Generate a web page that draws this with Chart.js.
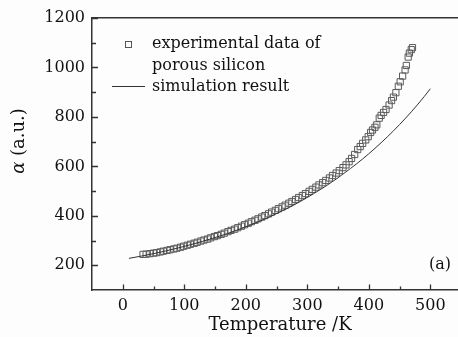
<!DOCTYPE html>
<html>
<head>
<meta charset="utf-8">
<script src="https://cdn.jsdelivr.net/npm/chart.js@4/dist/chart.umd.min.js"></script>
<style>
html,body{margin:0;padding:0;background:#fdfdfd;}
#wrap{width:458px;height:337px;position:relative;}
</style>
</head>
<body>
<div id="wrap"><canvas id="c" width="458" height="337"></canvas></div>
<script>
// Experimental data (porous silicon): temperature (K) and alpha (a.u.)
const expT = [33,38,44,50,55,61,66,72,77,83,88,94,99,105,110,116,121,127,132,138,143,149,154,160,165,171,176,182,187,193,198,204,209,215,220,226,231,237,242,248,253,259,264,270,275,281,286,292,297,303,308,314,319,325,330,336,341,347,352,358,363,368,372,377,382,386,390,395,399,403,406,410,413,417,420,424,428,433,437,440,444,448,451,455,459,461,464,466,469,471];
const expAlpha = [244,245,247,249,251,254,257,260,263,266,269,273,277,281,285,289,293,298,302,306,311,316,320,325,330,336,341,346,352,358,364,370,376,382,388,395,401,408,415,422,429,436,443,451,458,466,474,482,490,499,507,516,525,534,543,553,563,573,583,595,606,619,632,648,668,680,693,707,720,737,747,758,768,795,806,818,830,848,866,880,898,924,942,965,990,1008,1042,1058,1072,1080];
// Simulation result
const simT = [10,30,50,70,90,110,130,150,170,190,210,230,250,270,290,310,330,350,370,390,410,430,450,470,490,500];
const simAlpha = [228,237,247,258,270,283,297,312,328,346,365,386,409,433,460,489,520,554,591,630,673,719,769,823,882,914];
// Axis ticks
const xTicks = [0,100,200,300,400,500];
const yTicks = [200,400,600,800,1000,1200];
const xMinor = [50,150,250,350,450];
const yMinor = [300,500,700,900,1100];

const FONT = "'DejaVu Serif', serif";
const AX = '#333';
const TXT = '#111';

const decor = {
  id: 'decor',
  afterDraw(chart) {
    const ctx = chart.ctx, a = chart.chartArea;
    const xs = chart.scales.x, ys = chart.scales.y;
    ctx.save();
    ctx.strokeStyle = AX; ctx.lineWidth = 1.3;
    ctx.beginPath();
    xTicks.forEach(v => { const p = Math.round(xs.getPixelForValue(v)) + 0.5; ctx.moveTo(p, a.bottom); ctx.lineTo(p, a.bottom - 5.5); });
    xMinor.forEach(v => { const p = Math.round(xs.getPixelForValue(v)) + 0.5; ctx.moveTo(p, a.bottom); ctx.lineTo(p, a.bottom - 3.5); });
    yTicks.forEach(v => { const p = Math.round(ys.getPixelForValue(v)) + 0.5; ctx.moveTo(a.left, p); ctx.lineTo(a.left + 6, p); });
    yMinor.forEach(v => { const p = Math.round(ys.getPixelForValue(v)) + 0.5; ctx.moveTo(a.left, p); ctx.lineTo(a.left + 4, p); });
    ctx.stroke();

    // legend
    ctx.fillStyle = TXT;
    ctx.font = "16px " + FONT;
    ctx.textBaseline = 'alphabetic';
    ctx.textAlign = 'left';
    ctx.fillText('experimental data of', 152, 48);
    ctx.fillText('porous silicon', 152, 69.5);
    ctx.fillText('simulation result', 152, 90.5);
    ctx.strokeStyle = '#555'; ctx.lineWidth = 1;
    ctx.strokeRect(125.5, 41.5, 6, 6);
    ctx.strokeStyle = '#333'; ctx.lineWidth = 1;
    ctx.beginPath(); ctx.moveTo(112, 86.5); ctx.lineTo(145, 86.5); ctx.stroke();

    // panel label
    ctx.textAlign = 'center';
    ctx.fillText('(a)', 440, 269);

    // axis titles
    ctx.font = "18px " + FONT;
    ctx.fillText('Temperature /K', 280, 330);
    ctx.save();
    ctx.translate(24, 141);
    ctx.rotate(-Math.PI / 2);
    ctx.textAlign = 'left';
    ctx.font = "italic 18px " + FONT;
    const w1 = ctx.measureText('α').width;
    ctx.font = "18px " + FONT;
    const w2 = ctx.measureText(' (a.u.)').width;
    const start = -(w1 + w2) / 2;
    ctx.font = "italic 18px " + FONT;
    ctx.fillText('α', start, 0);
    ctx.font = "18px " + FONT;
    ctx.fillText(' (a.u.)', start + w1, 0);
    ctx.restore();
    ctx.restore();
  }
};

new Chart(document.getElementById('c'), {
  type: 'scatter',
  data: {
    datasets: [
      {
        label: 'experimental data of porous silicon',
        data: expT.map((t, i) => ({x: t, y: expAlpha[i]})),
        pointStyle: 'rect',
        pointRadius: 4.4,
        pointBorderWidth: 1,
        borderColor: '#5a5a5a',
        backgroundColor: 'rgba(0,0,0,0)',
        showLine: false,
        order: 2
      },
      {
        label: 'simulation result',
        data: simT.map((t, i) => ({x: t, y: simAlpha[i]})),
        showLine: true,
        pointRadius: 0,
        borderColor: '#333',
        borderWidth: 1,
        tension: 0.4,
        cubicInterpolationMode: 'monotone',
        order: 1
      }
    ]
  },
  options: {
    responsive: false,
    animation: false,
    layout: {padding: 0, autoPadding: false},
    plugins: {legend: {display: false}, tooltip: {enabled: false}},
    scales: {
      x: {
        type: 'linear', position: 'bottom', min: -50, max: 545,
        afterBuildTicks: s => { s.ticks = xTicks.map(v => ({value: v})); },
        afterFit: s => { s.height = 47; s.paddingLeft = 0; s.paddingRight = 0; },
        grid: {display: false, drawTicks: false},
        border: {display: true, color: AX, width: 1.5},
        ticks: {padding: 6, color: TXT, font: {family: FONT, size: 16}, maxRotation: 0,
                callback: v => String(v)}
      },
      x2: {
        type: 'linear', position: 'top', min: -50, max: 545, display: true,
        afterFit: s => { s.height = 18; s.paddingLeft = 0; s.paddingRight = 0; },
        grid: {display: false, drawTicks: false},
        border: {display: true, color: AX, width: 1.5},
        ticks: {display: false}
      },
      y: {
        type: 'linear', position: 'left', min: 100, max: 1200,
        afterBuildTicks: s => { s.ticks = yTicks.map(v => ({value: v})); },
        afterFit: s => { s.width = 92; s.paddingTop = 0; s.paddingBottom = 0; },
        grid: {display: false, drawTicks: false},
        border: {display: true, color: AX, width: 1.5},
        ticks: {padding: 7, color: TXT, font: {family: FONT, size: 16},
                callback: v => String(v)}
      }
    }
  },
  plugins: [decor]
});
</script>
</body>
</html>
